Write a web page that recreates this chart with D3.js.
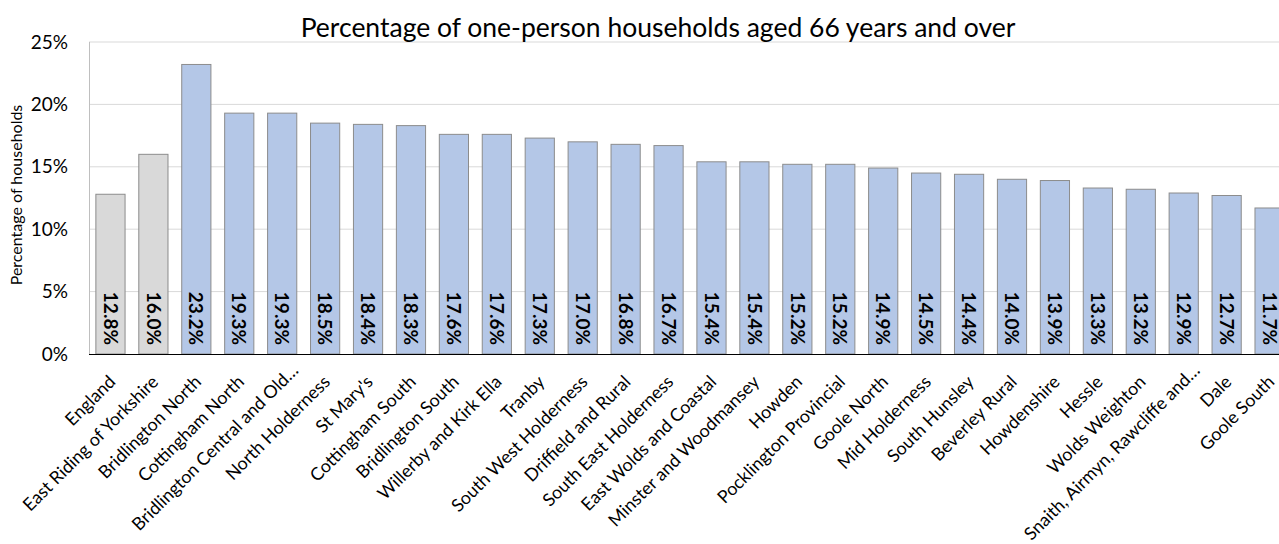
<!DOCTYPE html>
<html>
<head>
<meta charset="utf-8">
<script src="https://cdn.jsdelivr.net/npm/d3@7/dist/d3.min.js"></script>
<style>
  html, body { margin: 0; padding: 0; background: #fff; }
  svg { display: block; }
  text { font-family: Lato, "Open Sans", sans-serif; fill: #000; }
</style>
</head>
<body>
<svg id="chart" width="1279" height="544"></svg>
<script>
// Ward names in chart order (England and the county first as comparators)
const categories = [
  "England", "East Riding of Yorkshire", "Bridlington North", "Cottingham North",
  "Bridlington Central and Old\u2026", "North Holderness", "St Mary's", "Cottingham South",
  "Bridlington South", "Willerby and Kirk Ella", "Tranby", "South West Holderness",
  "Driffield and Rural", "South East Holderness", "East Wolds and Coastal",
  "Minster and Woodmansey", "Howden", "Pocklington Provincial", "Goole North",
  "Mid Holderness", "South Hunsley", "Beverley Rural", "Howdenshire", "Hessle",
  "Wolds Weighton", "Snaith, Airmyn, Rawcliffe and\u2026", "Dale", "Goole South"
];
// Share of one-person households aged 66+ (%)
const values = [
  12.8, 16.0, 23.2, 19.3, 19.3, 18.5, 18.4, 18.3, 17.6, 17.6, 17.3, 17.0, 16.8, 16.7,
  15.4, 15.4, 15.2, 15.2, 14.9, 14.5, 14.4, 14.0, 13.9, 13.3, 13.2, 12.9, 12.7, 11.7
];
// Comparator areas drawn in grey
const comparators = ["England", "East Riding of Yorkshire"];
const yTicks = [0, 5, 10, 15, 20, 25];

const svg = d3.select("#chart");
const plotLeft = 89, plotTop = 42, plotBottom = 354;
const step = 42.93;

const x = d3.scaleBand()
  .domain(categories)
  .range([plotLeft, plotLeft + step * categories.length])
  .paddingInner(0.32)
  .paddingOuter(0.16);

const y = d3.scaleLinear().domain([0, 25]).range([plotBottom, plotTop]);

// Gridlines
svg.append("g")
  .selectAll("line")
  .data(yTicks.filter(d => d > 0))
  .join("line")
  .attr("x1", plotLeft).attr("x2", 1279)
  .attr("y1", d => y(d)).attr("y2", d => y(d))
  .attr("stroke", "#d9d9d9").attr("stroke-width", 1);

// Left axis line
svg.append("line")
  .attr("x1", plotLeft + 0.5).attr("x2", plotLeft + 0.5)
  .attr("y1", plotTop).attr("y2", plotBottom)
  .attr("stroke", "#bfbfbf");

// Y tick labels
svg.append("g")
  .selectAll("text")
  .data(yTicks)
  .join("text")
  .attr("x", 68).attr("y", d => y(d))
  .attr("dy", "0.35em")
  .attr("text-anchor", "end")
  .style("font-size", "19px")
  .text(d => d + "%");

// Bars
svg.append("g")
  .selectAll("rect")
  .data(categories)
  .join("rect")
  .attr("x", d => x(d))
  .attr("y", (d, i) => y(values[i]))
  .attr("width", x.bandwidth())
  .attr("height", (d, i) => plotBottom - y(values[i]))
  .attr("fill", d => comparators.includes(d) ? "#d9d9d9" : "#b4c7e7")
  .attr("stroke", "#8c8c8c")
  .attr("stroke-width", 1);

// Value labels, rotated inside the base of each bar
svg.append("g")
  .selectAll("text")
  .data(categories)
  .join("text")
  .attr("transform", d => `translate(${x(d) + x.bandwidth() / 2},345) rotate(90)`)
  .attr("dy", "0.36em")
  .attr("text-anchor", "end")
  .style("font-size", "19px")
  .style("font-weight", "bold")
  .text((d, i) => values[i].toFixed(1) + "%");

// Bottom axis line
svg.append("line")
  .attr("x1", plotLeft).attr("x2", 1279)
  .attr("y1", plotBottom + 0.5).attr("y2", plotBottom + 0.5)
  .attr("stroke", "#000").attr("stroke-width", 1.2);

// Category labels at 45 degrees; truncated names sit a little further along the slant
svg.append("g")
  .selectAll("text")
  .data(categories)
  .join("text")
  .attr("transform", d => `translate(${x(d) + x.bandwidth() / 2 + 6},383) rotate(-45)`)
  .attr("dx", d => d.endsWith("\u2026") ? 16 : 0)
  .attr("text-anchor", "end")
  .style("font-size", "17.8px")
  .text(d => d);

// Y axis title
svg.append("text")
  .attr("transform", "translate(22,195) rotate(-90)")
  .attr("text-anchor", "middle")
  .style("font-size", "16px")
  .text("Percentage of households");

// Chart title
svg.append("text")
  .attr("x", 658).attr("y", 37)
  .attr("text-anchor", "middle")
  .style("font-size", "26.5px")
  .text("Percentage of one-person households aged 66 years and over");
</script>
</body>
</html>
